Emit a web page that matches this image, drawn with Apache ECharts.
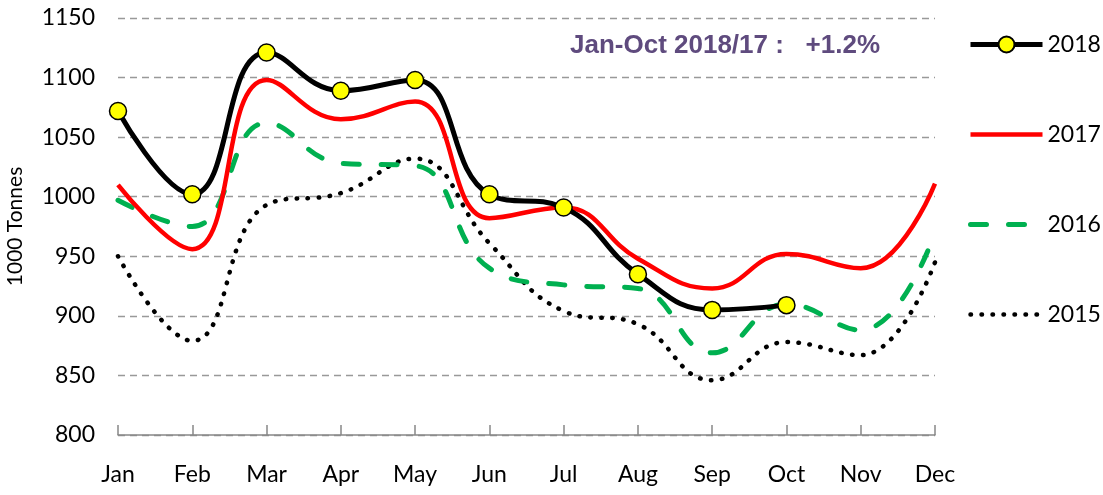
<!DOCTYPE html>
<html>
<head>
<meta charset="utf-8">
<script src="https://cdn.jsdelivr.net/npm/echarts@6/dist/echarts.min.js"></script>
<style>html,body{margin:0;padding:0;background:#fff}#c{width:1103px;height:495px}</style>
</head>
<body>
<div id="c"></div>
<script>
const months = ['Jan','Feb','Mar','Apr','May','Jun','Jul','Aug','Sep','Oct','Nov','Dec'];
const s2018 = [1072, 1002, 1121, 1089, 1098, 1002, 991, 935, 905, 909, null, null];
const s2017 = [1010, 956, 1098, 1065, 1080, 982, 991, 948, 923, 952, 940, 1011];
const s2016 = [997, 975, 1062, 1028, 1026, 940, 926, 923, 869, 910, 888, 970];
const s2015 = [950, 879, 993, 1003, 1032, 961, 904, 893, 846, 878, 867, 945];
const yTicks = {min: 800, max: 1150, interval: 50};
const note = 'Jan-Oct 2018/17 :   +1.2%';

const font = 'Lato, "Noto Sans", sans-serif';
const chart = echarts.init(document.getElementById('c'), null, {renderer: 'canvas'});
const sm = 0.45;
const noSym = {color: 'rgba(0,0,0,0)', borderColor: 'rgba(0,0,0,0)', borderWidth: 0};
const st = {
  '2018': {color: '#000', width: 5},
  '2017': {color: '#FF0000', width: 4.5},
  '2016': {color: '#00B050', width: 5, type: [16, 22], cap: 'round'},
  '2015': {color: '#000', width: 4.5, type: [0.5, 10.5], cap: 'round'}
};
chart.setOption({
  animation: false,
  backgroundColor: '#fff',
  grid: {left: 118, right: 168, top: 18, bottom: 60, containLabel: false, outerBoundsMode: 'none'},
  title: {
    text: note, left: 565, top: 28,
    textStyle: {fontFamily: 'Arial, "Liberation Sans", sans-serif', fontWeight: 'bold', fontSize: 26, color: '#5F4B7E'}
  },
  legend: {
    orient: 'vertical', left: 963, top: 28, itemWidth: 72, itemHeight: 20, itemGap: 67,
    textStyle: {fontFamily: font, fontSize: 23, color: '#000'},
    data: [
      {name: '2018', lineStyle: st['2018']},
      {name: '2017', itemStyle: noSym, lineStyle: st['2017']},
      {name: '2016', itemStyle: noSym, lineStyle: st['2016']},
      {name: '2015', itemStyle: noSym, lineStyle: st['2015']}
    ]
  },
  xAxis: {
    type: 'category', data: months, boundaryGap: false,
    axisLine: {lineStyle: {color: '#888', width: 1.5}},
    axisTick: {inside: true, length: 10, lineStyle: {color: '#888', width: 1.5}},
    axisLabel: {fontFamily: font, fontSize: 23, color: '#000', margin: 28}
  },
  yAxis: {
    type: 'value', min: yTicks.min, max: yTicks.max, interval: yTicks.interval,
    name: '1000 Tonnes', nameLocation: 'middle', nameGap: 92,
    nameTextStyle: {fontFamily: font, fontSize: 21, color: '#000'},
    axisLine: {show: false}, axisTick: {show: false},
    axisLabel: {fontFamily: font, fontSize: 23, color: '#000', margin: 23, formatter: v => String(v)},
    splitLine: {lineStyle: {color: '#999', type: [7, 5], width: 1.3}}
  },
  series: [
    {name: '2018', type: 'line', data: s2018, smooth: sm, z: 5, symbol: 'circle', symbolSize: 17,
     itemStyle: {color: '#FFFF00', borderColor: '#000', borderWidth: 1.5},
     lineStyle: st['2018']},
    {name: '2017', type: 'line', data: s2017, smooth: sm, z: 4, showSymbol: false, symbol: 'none',
     itemStyle: {color: '#FF0000'}, lineStyle: st['2017']},
    {name: '2016', type: 'line', data: s2016, smooth: sm, z: 3, showSymbol: false, symbol: 'none',
     itemStyle: {color: '#00B050'}, lineStyle: st['2016']},
    {name: '2015', type: 'line', data: s2015, smooth: sm, z: 2, showSymbol: false, symbol: 'none',
     itemStyle: {color: '#000'}, lineStyle: st['2015']}
  ]
});
</script>
</body>
</html>
